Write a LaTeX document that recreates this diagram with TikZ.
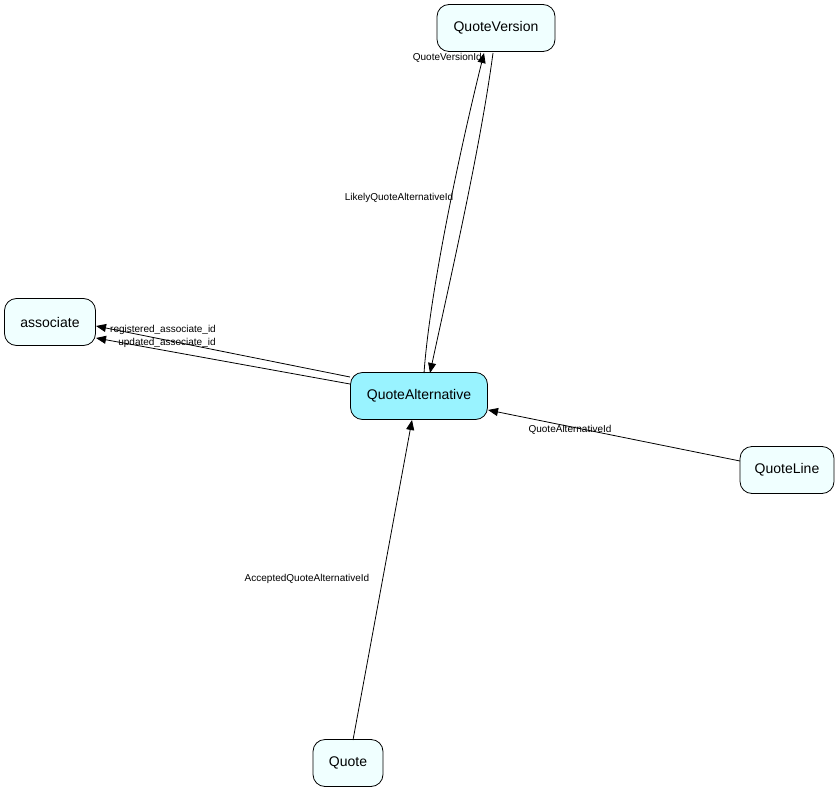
\documentclass[tikz,border=0pt]{standalone}
\usepackage{fontspec}
\setmainfont{Liberation Sans}
\usetikzlibrary{arrows.meta}
\definecolor{lt}{HTML}{F0FFFF}
\definecolor{qa}{HTML}{99F3FF}
\begin{document}
\begin{tikzpicture}[x=1pt,y=-1pt,
  ent/.style={draw=black,fill=lt,rounded corners=12pt,minimum height=47pt,inner sep=0pt,font=\fontsize{14}{16}\selectfont,line width=0.8pt},
  ed/.style={-{Triangle[length=10pt,width=8pt]},line width=0.8pt},
  lb/.style={font=\fontsize{10}{12}\selectfont,inner sep=1pt}]
\useasboundingbox (0,0) rectangle (840,794);
\node[ent,minimum width=118pt] (qv) at (496,28) {QuoteVersion};
\node[ent,minimum width=91pt] (as) at (50,322) {associate};
\node[ent,fill=qa,minimum width=137pt] (qa) at (419,396) {QuoteAlternative};
\node[ent,minimum width=94pt] (ql) at (787,470) {QuoteLine};
\node[ent,minimum width=70pt] (q) at (348,763) {Quote};
\coordinate (qat1) at (424,373);
\coordinate (qat2) at (430,373);
\coordinate (qvb1) at (484,53);
\coordinate (qvb2) at (493,53);
\draw[ed] (qat1) .. controls (430,290) and (460,150) .. (qvb1);
\draw[ed] (qvb2) .. controls (480,150) and (450,280) .. (qat2);
\coordinate (qal1) at (350,377);
\coordinate (qal2) at (350,384);
\coordinate (asr1) at (96,326);
\coordinate (asr2) at (96,338);
\draw[ed] (qal1) -- (asr1);
\draw[ed] (qal2) -- (asr2);
\coordinate (qlw) at (740,461);
\coordinate (qar) at (488,410);
\draw[ed] (qlw) -- (qar);
\coordinate (qt) at (353,740);
\coordinate (qab) at (412,420);
\draw[ed] (qt) -- (qab);
\node[lb,anchor=east] (l1) at (483,58) {QuoteVersionId};
\node[lb] (l2) at (399,198) {LikelyQuoteAlternativeId};
\node[lb] (l3) at (163,330) {registered\_associate\_id};
\node[lb] (l4) at (167,343) {updated\_associate\_id};
\node[lb] (l5) at (570,430) {QuoteAlternativeId};
\node[lb] (l6) at (307,579) {AcceptedQuoteAlternativeId};
\end{tikzpicture}
\end{document}
